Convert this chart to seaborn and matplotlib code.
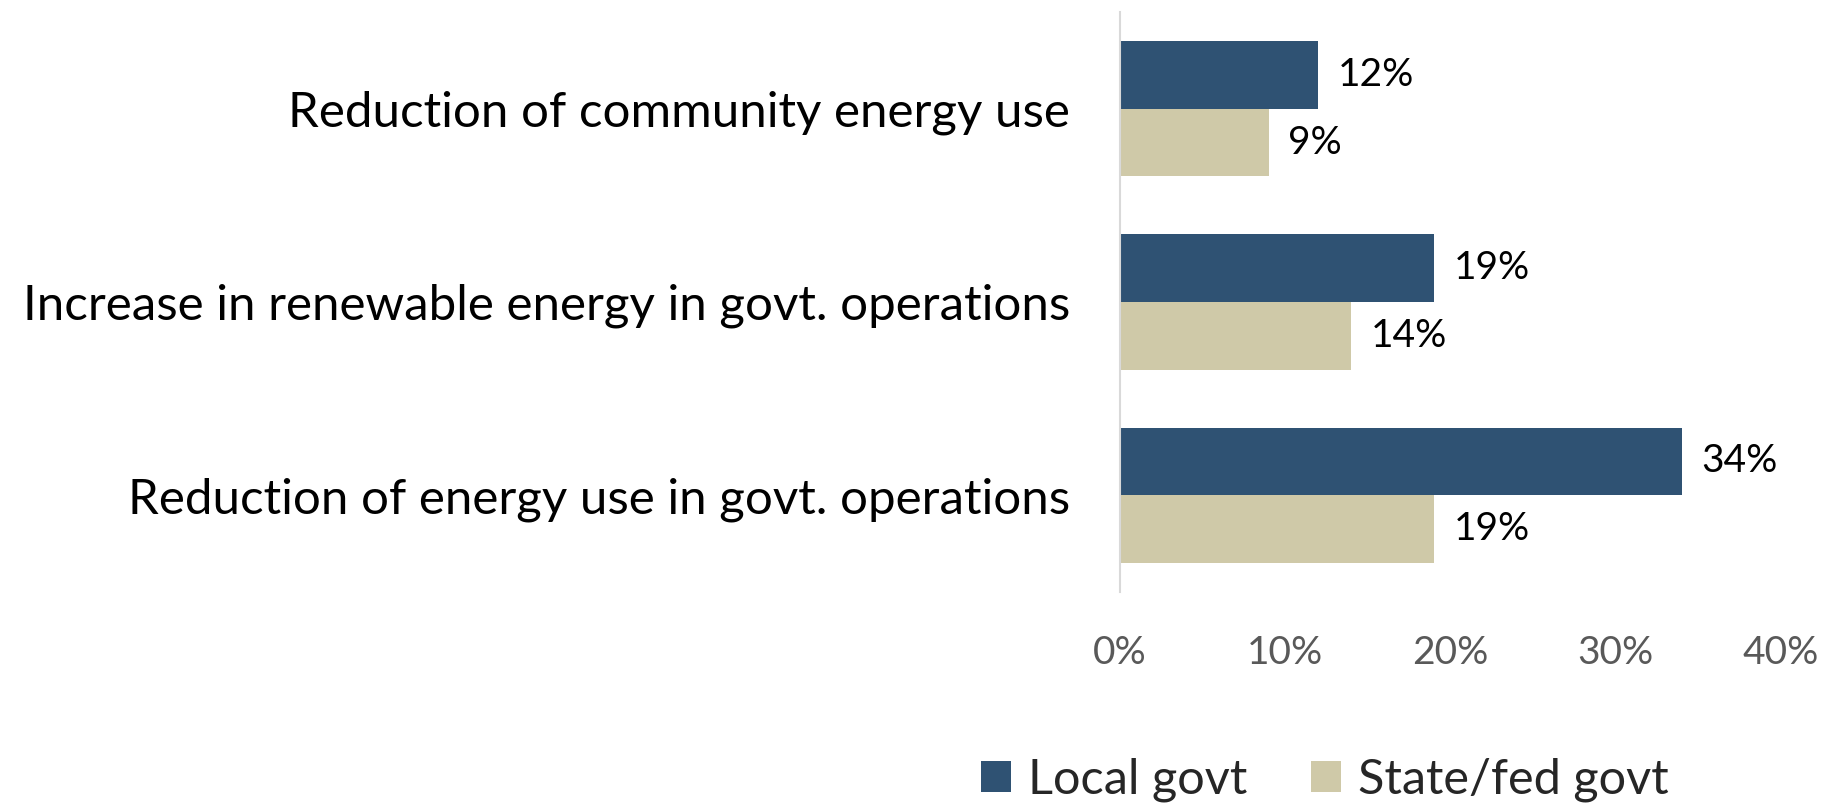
import matplotlib
matplotlib.use("Agg")
import matplotlib.pyplot as plt
from matplotlib.patches import Patch
from matplotlib.ticker import PercentFormatter
import pandas as pd
import seaborn as sns

# Data
categories = [
    "Reduction of community energy use",
    "Increase in renewable energy in govt. operations",
    "Reduction of energy use in govt. operations",
]
series_names = ["Local govt", "State/fed govt"]
local_govt = [12, 19, 34]
state_fed_govt = [9, 14, 19]
x_ticks = [0, 10, 20, 30, 40]

colors = {"Local govt": "#2F5273", "State/fed govt": "#CFC9A8"}

df = pd.DataFrame({
    "Category": categories * 2,
    "Series": [series_names[0]] * 3 + [series_names[1]] * 3,
    "Value": local_govt + state_fed_govt,
})

sns.set_theme(style="white")
plt.rcParams["font.family"] = ["Lato", "DejaVu Sans"]

fig = plt.figure(figsize=(18.39, 8.07), dpi=100)
W, H = 1839, 807
left, right, top, bottom = 1120, 1781, 12, 592
ax = fig.add_axes([left / W, 1 - bottom / H, (right - left) / W, (bottom - top) / H])

sns.barplot(
    data=df, y="Category", x="Value", hue="Series",
    order=categories, hue_order=series_names,
    palette=colors, orient="h", width=0.7, ax=ax,
    saturation=1, legend=False, linewidth=0,
)

ax.set_xlim(0, 40)
ax.set_ylim(2.5, -0.5)
ax.set_xticks(x_ticks)
ax.xaxis.set_major_formatter(PercentFormatter(decimals=0))
ax.set_xlabel("")
ax.set_ylabel("")

for s in ["top", "right", "bottom"]:
    ax.spines[s].set_visible(False)
ax.spines["left"].set_color("#D9D9D9")
ax.spines["left"].set_linewidth(1.5)

ax.tick_params(axis="x", length=0, pad=31, labelsize=28, labelcolor="#595959")
ax.tick_params(axis="y", length=0, pad=36, labelsize=35.5, labelcolor="black")
for lbl in ax.get_yticklabels():
    lbl.set_va("center_baseline")

# Value labels at the end of each bar
for container in ax.containers:
    ax.bar_label(container, labels=[f"{v:.0f}%" for v in container.datavalues],
                 padding=14, fontsize=28, color="black")

handles = [Patch(facecolor=colors[n], edgecolor="none") for n in series_names]
fig.legend(
    handles, series_names, loc="center", bbox_to_anchor=(1325 / W, 1 - 780 / H),
    ncol=2, frameon=False, fontsize=35, handlelength=0.62, handleheight=0.62,
    handletextpad=0.35, columnspacing=1.3,
)

fig.savefig("out.png", dpi=100, facecolor="white")
